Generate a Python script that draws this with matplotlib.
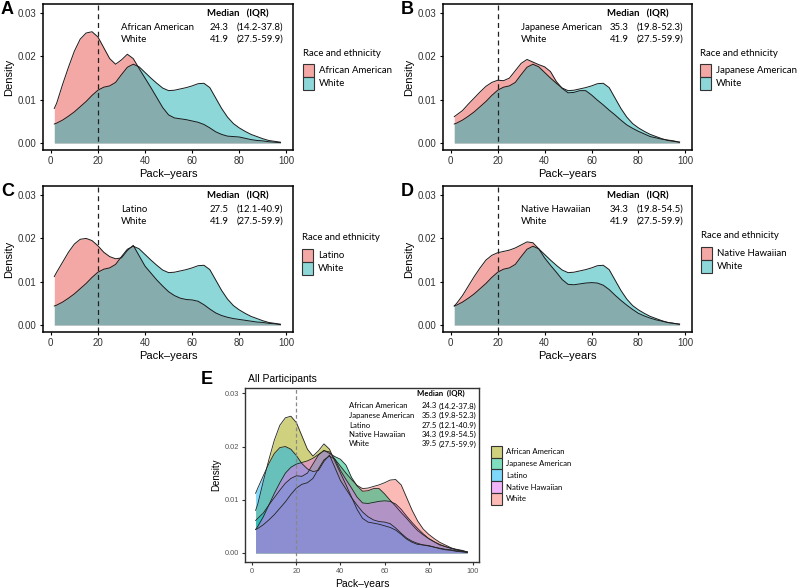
import matplotlib
matplotlib.use("Agg")
import matplotlib.pyplot as plt
from matplotlib.patches import Rectangle

W, H = 797, 588

# pack-years grid and density curves
pack_years = [1.5, 2.5, 5, 7.5, 10, 12.5, 15, 17.5, 20, 22.5,
              25, 27.5, 30, 32.5, 35, 37.5, 40, 42.5, 45, 47.5,
              50, 52.5, 55, 57.5, 60, 62.5, 65, 67.5, 70, 72.5,
              75, 77.5, 80, 82.5, 85, 87.5, 90, 92.5, 95, 97.5]
dens_aa = [0.0080, 0.0092, 0.0135, 0.0175, 0.0212, 0.0240, 0.0254, 0.0257, 0.0245, 0.0220,
           0.0195, 0.0182, 0.0192, 0.0205, 0.0195, 0.0172, 0.0150, 0.0128, 0.0105, 0.0082,
           0.0065, 0.0058, 0.0056, 0.0054, 0.0051, 0.0048, 0.0043, 0.0035, 0.0026, 0.0020,
           0.0016, 0.0015, 0.0014, 0.0011, 0.0008, 0.0006, 0.0005, 0.0003, 0.0002, 0.0001]
dens_white = [0.0044, 0.0046, 0.0053, 0.0062, 0.0072, 0.0084, 0.0096, 0.0110, 0.0122, 0.0129,
              0.0132, 0.0140, 0.0158, 0.0175, 0.0182, 0.0176, 0.0163, 0.0150, 0.0138, 0.0127,
              0.0121, 0.0122, 0.0125, 0.0128, 0.0132, 0.0137, 0.0138, 0.0128, 0.0104, 0.0080,
              0.0060, 0.0045, 0.0035, 0.0027, 0.0020, 0.0015, 0.0010, 0.0006, 0.0004, 0.0002]
dens_ja = [0.0061, 0.0065, 0.0075, 0.0090, 0.0104, 0.0118, 0.0131, 0.0140, 0.0145, 0.0144,
           0.0150, 0.0167, 0.0184, 0.0193, 0.0187, 0.0181, 0.0176, 0.0165, 0.0142, 0.0126,
           0.0116, 0.0117, 0.0121, 0.0121, 0.0111, 0.0099, 0.0088, 0.0076, 0.0065, 0.0053,
           0.0042, 0.0034, 0.0027, 0.0021, 0.0015, 0.0012, 0.0009, 0.0007, 0.0005, 0.0002]
dens_lat = [0.0112, 0.0122, 0.0145, 0.0168, 0.0187, 0.0198, 0.0200, 0.0195, 0.0183, 0.0168,
            0.0158, 0.0153, 0.0155, 0.0172, 0.0184, 0.0160, 0.0136, 0.0120, 0.0104, 0.0090,
            0.0077, 0.0068, 0.0062, 0.0059, 0.0058, 0.0055, 0.0047, 0.0037, 0.0028, 0.0022,
            0.0018, 0.0015, 0.0013, 0.0011, 0.0009, 0.0007, 0.0006, 0.0004, 0.0003, 0.0001]
dens_nh = [0.0044, 0.0050, 0.0068, 0.0090, 0.0112, 0.0132, 0.0150, 0.0161, 0.0167, 0.0170,
           0.0173, 0.0178, 0.0185, 0.0192, 0.0190, 0.0176, 0.0155, 0.0138, 0.0122, 0.0105,
           0.0094, 0.0093, 0.0095, 0.0097, 0.0098, 0.0097, 0.0092, 0.0082, 0.0069, 0.0057,
           0.0046, 0.0036, 0.0027, 0.0021, 0.0016, 0.0012, 0.0009, 0.0006, 0.0004, 0.0002]

groups = ["African American", "Japanese American", "Latino", "Native Hawaiian", "White"]
medians = ["24.3", "35.3", "27.5", "34.3", "41.9"]
iqrs = ["(14.2-37.8)", "(19.8-52.3)", "(12.1-40.9)", "(19.8-54.5)", "(27.5-59.9)"]
median_all_white = "39.5"
curves = {"African American": dens_aa, "Japanese American": dens_ja, "Latino": dens_lat,
          "Native Hawaiian": dens_nh, "White": dens_white}

x_ticks = [0, 20, 40, 60, 80, 100]
y_ticks = [0.00, 0.01, 0.02, 0.03]
y_labels = ["0.00", "0.01", "0.02", "0.03"]

pink = "#E9534D"
teal = "#1DB1B5"
e_colors = {"White": "#F8766D", "African American": "#A3A500", "Japanese American": "#00BF7D",
            "Latino": "#00B0F6", "Native Hawaiian": "#E76BF3"}

SANS = "Liberation Sans"
CAL = "Lato"
TFS = 6.9   # annotation font size, panels A-D
EFS = 5.6   # annotation font size, panel E

fig = plt.figure(figsize=(W / 100, H / 100), dpi=100)


def px_axes(l, t, r, b):
    return fig.add_axes([l / W, 1 - b / H, (r - l) / W, (b - t) / H])


def ftext(x, y, s, **kw):
    kw.setdefault("va", "center")
    fig.text(x / W, 1 - y / H, s, **kw)


def key_box(x, y, w, h, col):
    fig.patches.append(Rectangle((x / W, 1 - (y + h) / H), w / W, h / H,
                                 transform=fig.transFigure, facecolor=col, alpha=0.5,
                                 edgecolor="none"))
    fig.patches.append(Rectangle((x / W, 1 - (y + h) / H), w / W, h / H,
                                 transform=fig.transFigure, facecolor="none",
                                 edgecolor="#333333", lw=0.8))


def style_axes(ax, ylim, lw=1.1, tick_size=7, tick_color="#333333", edge="black", pad=2):
    ax.set_xlim(-3.3, 102.8)
    ax.set_ylim(*ylim)
    ax.set_xticks(x_ticks)
    ax.set_xticklabels([str(t) for t in x_ticks], fontsize=tick_size, family=SANS)
    ax.set_yticks(y_ticks)
    ax.set_yticklabels(y_labels, fontsize=tick_size, family=SANS)
    ax.tick_params(length=2.5, width=0.8, pad=pad, colors=edge)
    for lab in ax.get_xticklabels() + ax.get_yticklabels():
        lab.set_color(tick_color)
    for sp in ax.spines.values():
        sp.set_linewidth(lw)
        sp.set_color(edge)


def pair_panel(letter, other, box, legend_xy):
    l, t, r, b = box
    ax = px_axes(l, t, r, b)
    for name, col in [(other, pink), ("White", teal)]:
        ax.fill_between(pack_years, curves[name], color=col, alpha=0.5, lw=0)
        ax.plot(pack_years, curves[name], color="#1a1a1a", lw=0.7)
    ax.axvline(20, color="#222222", lw=0.9, ls=(0, (4, 3)))
    style_axes(ax, (-0.0016, 0.0321))
    ax.set_ylabel("Density", fontsize=8, family=SANS, labelpad=3)
    ax.set_xlabel("Pack\u2013years", fontsize=8, family=SANS, labelpad=2)
    ftext(l - 42, t + 5, letter, fontsize=13, weight="bold", family=SANS)
    # median table
    i = groups.index(other)
    ftext(l + 164, t + 10, "Median   (IQR)", fontsize=TFS, weight="bold", family=CAL)
    ftext(l + 78, t + 23, other, fontsize=TFS, family=CAL)
    ftext(l + 78, t + 35, "White", fontsize=TFS, family=CAL)
    ftext(l + 167, t + 23, medians[i], fontsize=TFS, family=CAL)
    ftext(l + 167, t + 35, medians[4], fontsize=TFS, family=CAL)
    ftext(l + 194, t + 23, iqrs[i], fontsize=TFS, family=CAL)
    ftext(l + 194, t + 35, iqrs[4], fontsize=TFS, family=CAL)
    # legend
    lx, ly = legend_xy
    ftext(lx, ly, "Race and ethnicity", fontsize=TFS, family=CAL)
    for k, (name, col) in enumerate([(other, pink), ("White", teal)]):
        y0 = ly + 11 + k * 13
        key_box(lx, y0, 11, 13, col)
        ftext(lx + 16, y0 + 6.5, name, fontsize=TFS, family=CAL)
    return ax


pair_panel("A", "African American", (43, 4, 293, 150), (303, 53))
pair_panel("B", "Japanese American", (443, 4, 692, 150), (700, 53))
pair_panel("C", "Latino", (43, 186, 293, 332), (302, 238))
pair_panel("D", "Native Hawaiian", (443, 186, 692, 332), (701, 236))

# panel E
ax = px_axes(245, 388, 479, 562)
for name in ["White", "African American", "Japanese American", "Latino", "Native Hawaiian"]:
    ax.fill_between(pack_years, curves[name], color=e_colors[name], alpha=0.5, lw=0)
    ax.plot(pack_years, curves[name], color="#222222", lw=0.6)
ax.axvline(20, color="#888888", lw=0.9, ls=(0, (3, 2)))
style_axes(ax, (-0.0017, 0.0310), lw=1.0, tick_size=5.3, tick_color="#555555",
           edge="#333333", pad=1.5)
ax.set_ylabel("Density", fontsize=7, family=SANS, labelpad=3)
ax.set_xlabel("Pack\u2013years", fontsize=7.5, family=SANS, labelpad=3.5)
ftext(201, 379, "E", fontsize=13, weight="bold", family=SANS)
ftext(248, 379, "All Participants", fontsize=7.5, family=SANS)
ftext(417, 393, "Median  (IQR)", fontsize=EFS, weight="bold", family=CAL)
for k, name in enumerate(groups):
    yy = 406 + k * 9.5
    med = median_all_white if name == "White" else medians[k]
    ftext(349, yy, name, fontsize=EFS, family=CAL)
    ftext(422, yy, med, fontsize=EFS, family=CAL)
    ftext(439, yy, iqrs[k], fontsize=EFS, family=CAL)
for k, name in enumerate(groups):
    y0 = 446 + k * 11.7
    key_box(491, y0, 11, 11.7, e_colors[name])
    ftext(506, y0 + 6, name, fontsize=EFS, family=CAL)

fig.savefig("out.png", dpi=100)
